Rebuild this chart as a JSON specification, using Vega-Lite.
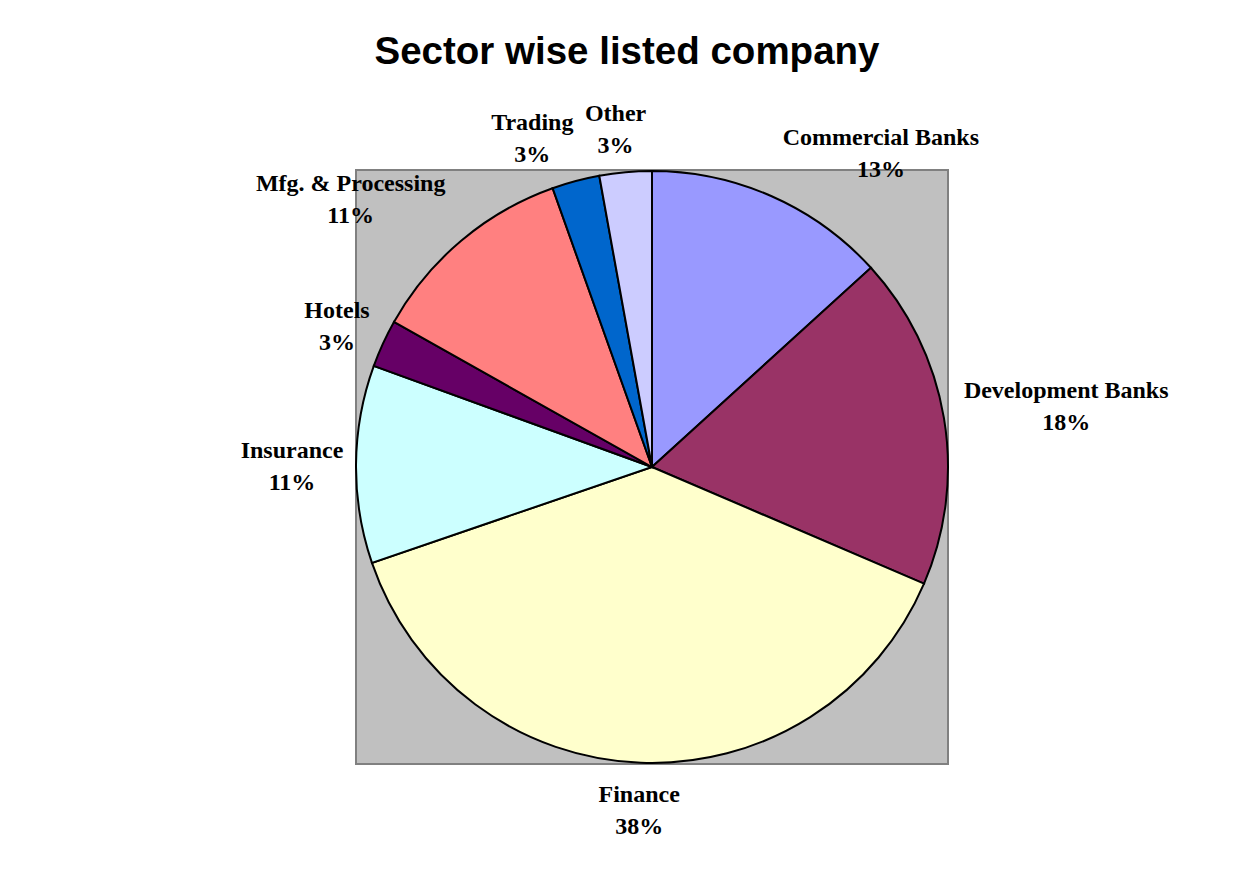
{
  "$schema": "https://vega.github.io/schema/vega-lite/v6.json",
  "width": 592,
  "height": 594,
  "autosize": {"type": "none"},
  "padding": {"left": 356, "top": 170, "right": 309, "bottom": 109},
  "background": "white",
  "view": {"fill": "#c0c0c0", "stroke": "#808080", "strokeWidth": 2},
  "title": {
    "text": "Sector wise listed company",
    "font": "Liberation Sans",
    "fontSize": 38.5,
    "fontWeight": "bold",
    "color": "black",
    "anchor": "middle",
    "dx": -25,
    "offset": 30
  },
  "config": {
    "text": {"font": "Liberation Serif", "fontSize": 24, "fontWeight": "bold", "lineBreak": "\n", "lineHeight": 32, "color": "black"}
  },
  "data": {
    "values": [
      {"sector": "Commercial Banks", "value": 13.25, "label": "Commercial Banks\n13%"},
      {"sector": "Development Banks", "value": 18.2, "label": "Development Banks\n18%"},
      {"sector": "Finance", "value": 38.3, "label": "Finance\n38%"},
      {"sector": "Insurance", "value": 10.8, "label": "Insurance\n11%"},
      {"sector": "Hotels", "value": 2.6, "label": "Hotels\n3%"},
      {"sector": "Mfg. & Processing", "value": 11.4, "label": "Mfg. & Processing\n11%"},
      {"sector": "Trading", "value": 2.6, "label": "Trading\n3%"},
      {"sector": "Other", "value": 2.85, "label": "Other\n3%"}
    ]
  },
  "transform": [
    {"window": [{"op": "row_number", "as": "idx"}]},
    {"stack": "value", "groupby": [], "sort": [{"field": "idx", "order": "ascending"}], "as": ["t0", "t1"]}
  ],
  "layer": [
    {
      "mark": {"type": "arc", "radius": 296, "stroke": "black", "strokeWidth": 2},
      "encoding": {
        "theta": {"field": "t0", "type": "quantitative", "scale": {"domain": [0, 100]}},
        "theta2": {"field": "t1"},
        "color": {
          "field": "sector",
          "type": "nominal",
          "scale": {
            "domain": ["Commercial Banks", "Development Banks", "Finance", "Insurance", "Hotels", "Mfg. & Processing", "Trading", "Other"],
            "range": ["#9999ff", "#993366", "#ffffcc", "#ccffff", "#660066", "#ff8080", "#0066cc", "#ccccff"]
          },
          "legend": null
        }
      }
    },
    {
      "transform": [
        {"fold": ["t0", "t1"], "as": ["edge", "t"]},
        {"aggregate": [{"op": "mean", "field": "t", "as": "tm"}], "groupby": ["sector", "label"]}
      ],
      "layer": [
        {
          "transform": [{"filter": {"field": "sector", "equal": "Finance"}}],
          "mark": {"type": "text", "radius": 340, "align": "center", "baseline": "middle", "dy": -12},
          "encoding": {"theta": {"field": "tm", "type": "quantitative", "scale": {"domain": [0, 100]}}, "text": {"field": "label"}}
        },
        {
          "transform": [{"filter": {"field": "sector", "oneOf": ["Hotels", "Other"]}}],
          "mark": {"type": "text", "radius": 340, "align": "center", "baseline": "middle", "dx": -6, "dy": -14},
          "encoding": {"theta": {"field": "tm", "type": "quantitative"}, "text": {"field": "label"}}
        },
        {
          "transform": [{"filter": {"field": "sector", "equal": "Insurance"}}],
          "mark": {"type": "text", "radius": 360, "align": "center", "baseline": "middle", "dy": -13},
          "encoding": {"theta": {"field": "tm", "type": "quantitative"}, "text": {"field": "label"}}
        },
        {
          "transform": [{"filter": {"field": "sector", "equal": "Trading"}}],
          "mark": {"type": "text", "radius": 348, "align": "center", "baseline": "middle", "dx": -30, "dy": -8},
          "encoding": {"theta": {"field": "tm", "type": "quantitative"}, "text": {"field": "label"}}
        },
        {
          "transform": [{"filter": {"field": "sector", "equal": "Development Banks"}}],
          "mark": {"type": "text", "radius": 418, "align": "center", "baseline": "middle", "dx": 2, "dy": -7},
          "encoding": {"theta": {"field": "tm", "type": "quantitative"}, "text": {"field": "label"}}
        },
        {
          "transform": [{"filter": {"field": "sector", "equal": "Commercial Banks"}}],
          "mark": {"type": "text", "radius": 388, "align": "center", "baseline": "middle", "dx": 72, "dy": 26},
          "encoding": {"theta": {"field": "tm", "type": "quantitative"}, "text": {"field": "label"}}
        },
        {
          "transform": [{"filter": {"field": "sector", "equal": "Mfg. & Processing"}}],
          "mark": {"type": "text", "radius": 348, "align": "center", "baseline": "middle", "dx": -77, "dy": -17},
          "encoding": {"theta": {"field": "tm", "type": "quantitative"}, "text": {"field": "label"}}
        }
      ]
    }
  ]
}
